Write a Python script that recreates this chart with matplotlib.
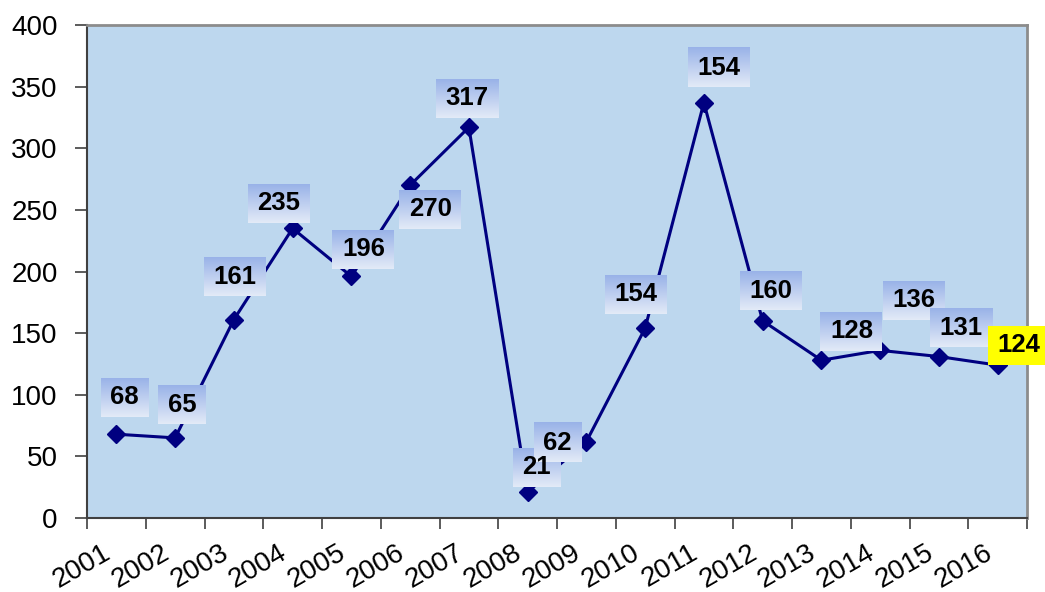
import matplotlib
matplotlib.use('Agg')
import matplotlib.pyplot as plt
from matplotlib.transforms import Affine2D
import numpy as np

years = ['2001', '2002', '2003', '2004', '2005', '2006', '2007', '2008',
         '2009', '2010', '2011', '2012', '2013', '2014', '2015', '2016']
values = [68, 65, 161, 235, 196, 270, 317, 21, 62, 154, 337, 160, 128, 136, 131, 124]
# the data labels as printed on the chart (2011 shows 154 in the original)
labels = ['68', '65', '161', '235', '196', '270', '317', '21',
          '62', '154', '154', '160', '128', '136', '131', '124']
# label offsets from the point in pixels (dx right, dy down)
offsets = [(8, -37), (7, -33), (1, -43), (-14, -25), (12, -27), (20, 24), (-2, -29), (9, -25),
           (-29, 1), (-9, -34), (15, -35), (8, -30), (30, -29), (34, -50), (22, -29), (21, -20)]

plt.rcParams['font.family'] = ['Liberation Sans', 'DejaVu Sans']

fig = plt.figure(figsize=(10.45, 5.92), dpi=100)
ax = fig.add_axes([87 / 1045, 1 - 518 / 592, 940 / 1045, 493 / 592])
ax.set_facecolor('#BDD7EE')

x = np.arange(len(years))
ax.plot(x, values, color='#000080', lw=2.2, marker='D', markersize=9.5, zorder=3)

ax.set_xlim(-0.5, len(years) - 0.5)
ax.set_ylim(0, 400)
ax.set_yticks(range(0, 401, 50))
ax.tick_params(axis='y', labelsize=20, length=9, width=1.2, color='#404040', pad=12)

ax.set_xticks(x)
ax.set_xticklabels(years, rotation=30, ha='right', va='top', rotation_mode='anchor', fontsize=20)
ax.tick_params(axis='x', which='major', length=0, pad=16)
for t in ax.get_xticklabels():
    t.set_transform(t.get_transform() + Affine2D().translate(-14, 0))
ax.set_xticks(np.arange(-0.5, len(years), 1), minor=True)
ax.tick_params(axis='x', which='minor', length=8, width=1.2, color='#404040')

for side in ['top', 'right']:
    ax.spines[side].set_color('#8C8C8C')
    ax.spines[side].set_linewidth(2)
for side in ['left', 'bottom']:
    ax.spines[side].set_color('#404040')
    ax.spines[side].set_linewidth(1.5)

# data labels with gradient boxes behind them
fig.canvas.draw()
renderer = fig.canvas.get_renderer()
grad = np.linspace(0, 1, 64)
top = np.array([0.60, 0.70, 0.91])
bot = np.array([0.89, 0.92, 0.97])
grad_img = (top + (bot - top) * grad[:, None]).reshape(64, 1, 3)
inv = ax.transData.inverted()
bh = 19.5
for i, (lab, (dx, dy)) in enumerate(zip(labels, offsets)):
    px, py = ax.transData.transform((x[i], values[i]))
    cx, cy = px + dx, py - dy
    tx, ty = inv.transform((cx, cy))
    txt = ax.text(tx, ty, lab, ha='center', va='center', fontsize=18.5, fontweight='bold',
                  color='black', zorder=5, clip_on=False)
    bw = txt.get_window_extent(renderer).width / 2 + 9.5
    (x0, y0) = inv.transform((cx - bw, cy - bh))
    (x1, y1) = inv.transform((cx + bw, cy + bh))
    if i == len(labels) - 1:
        ax.add_patch(plt.Rectangle((x0, y0), x1 - x0, y1 - y0, facecolor='#FFFF00',
                                   edgecolor='none', clip_on=False, zorder=4))
    else:
        ax.imshow(grad_img, extent=(x0, x1, y0, y1), aspect='auto', origin='upper',
                  clip_on=False, zorder=4)

ax.set_xlim(-0.5, len(years) - 0.5)
ax.set_ylim(0, 400)
ax.set_aspect('auto')

fig.savefig('out.png', dpi=100)
